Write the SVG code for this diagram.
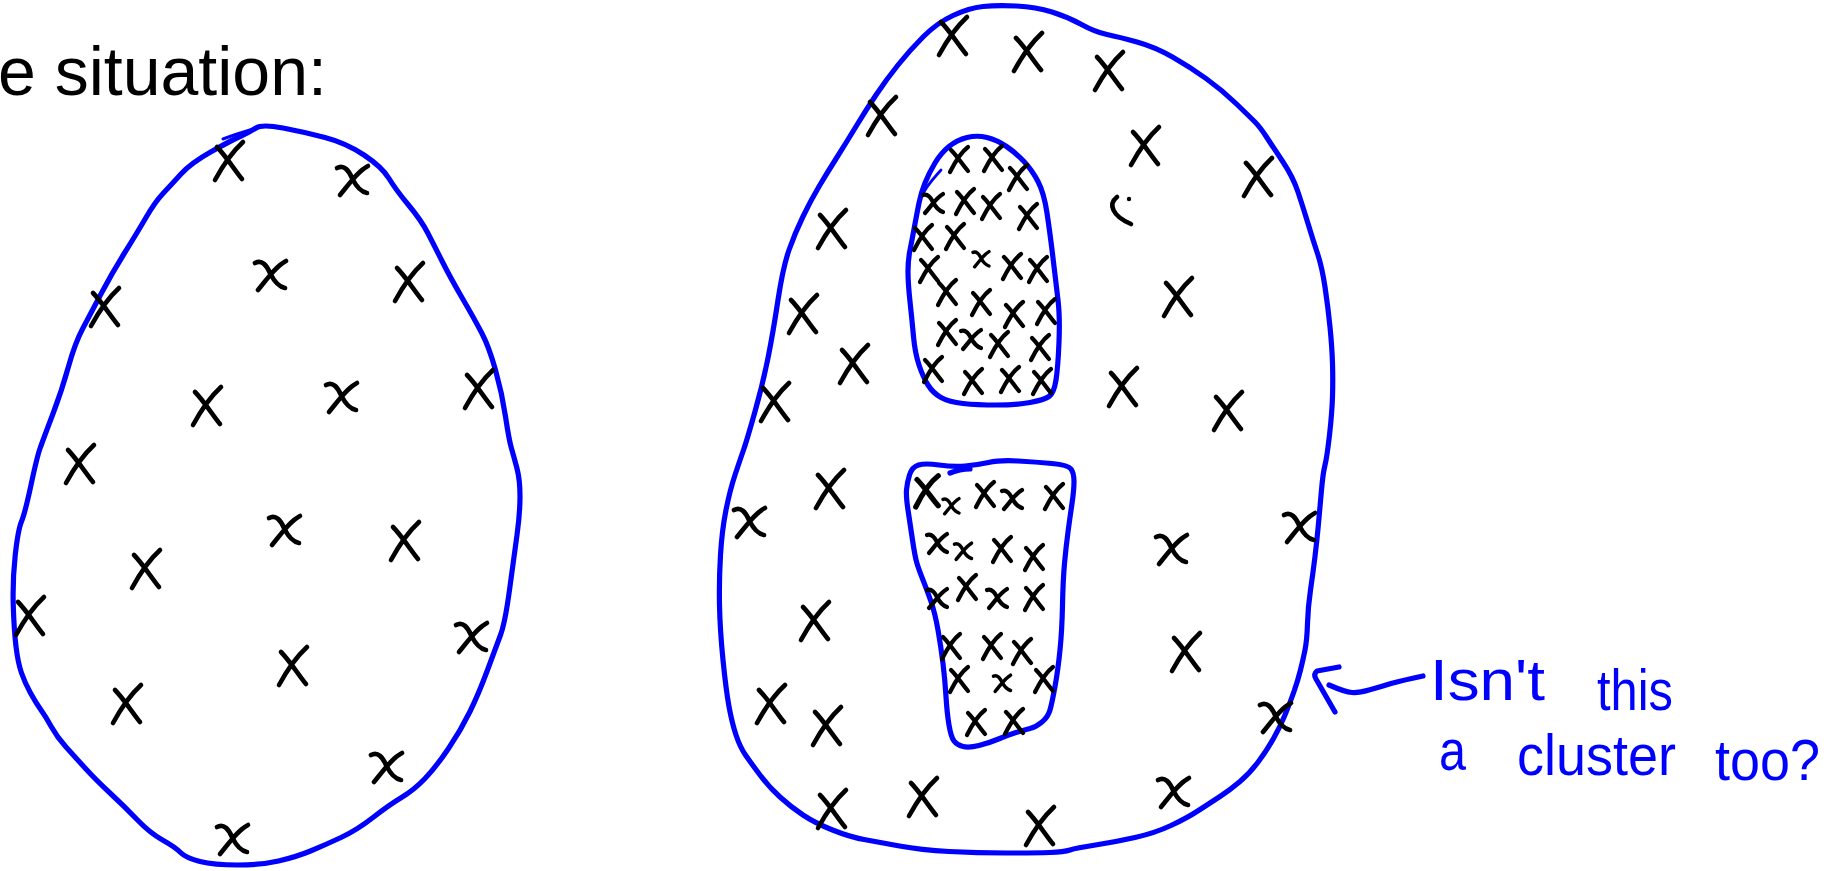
<svg xmlns="http://www.w3.org/2000/svg" xmlns:xlink="http://www.w3.org/1999/xlink" width="1844" height="871" viewBox="0 0 1844 871">
<style>
.outline{fill:none;stroke:#0000ff;stroke-width:5.2;stroke-linejoin:round;stroke-linecap:round}
.mark{fill:none;stroke:#000;stroke-width:4.6;stroke-linecap:round;stroke-linejoin:round}
.marks{fill:none;stroke:#000;stroke-width:4.2;stroke-linecap:round;stroke-linejoin:round}
.hand{font-family:"Liberation Sans",Arial,sans-serif;font-size:58px;fill:#0000ff}
.title{font-family:"Liberation Sans",Arial,sans-serif;font-size:68px;fill:#000}
</style>
<defs>
<path id="xA" class="mark" d="M-14,18 C-8,7 2,-9 14,-20 M-12,-15 C-4,-7 5,7 13,17"/>
<path id="xB" class="mark" d="M-15,-10 C-8,-14 -3,-7 0,0 C4,8 9,14 15,15 M-12,17 C-2,5 6,-7 16,-12"/>
<path id="xs" class="marks" d="M-9,12 C-5,4 1,-7 9,-13 M-8,-10 C-2,-4 3,4 9,11"/>
<path id="xt" class="marks" d="M-10,-7 C-5,-9 -2,-4 0,0 C3,6 7,9 10,10 M-8,11 C-1,3 3,-4 10,-8"/>
</defs>
<rect width="1844" height="871" fill="#fff"/>
<g id="title"><text class="title" x="-2" y="95">e situation:</text></g>

<g id="left-cluster">
<path class="outline" d="M256,128 Q262,124 283,128 Q304,132 325,137.5 Q346,143 364,155 Q382,167 389,178.5 Q396,190 408.5,205 Q421,220 427.5,232.5 Q434,245 442,261 Q450,277 462.5,298.5 Q475,320 482,333.5 Q489,347 495.5,370 Q502,393 505.5,416.5 Q509,440 511.5,448.5 Q514,457 517,468.5 Q520,480 520,496.5 Q520,513 517,535 Q514,557 509.5,590 Q505,623 500.5,635 Q496,647 487.5,670 Q479,693 470,711.5 Q461,730 448.5,748.5 Q436,767 425,778.5 Q414,790 401.5,797.5 Q389,805 373,817.5 Q357,830 341,837.5 Q325,845 310.5,851 Q296,857 278.5,861 Q261,865 237.5,865 Q214,865 200,861.5 Q186,858 180.5,852.5 Q175,847 162.5,840 Q150,833 137.5,820 Q125,807 110.5,793.5 Q96,780 85.5,768.5 Q75,757 66,747 Q57,737 51.5,727 Q46,717 41,710 Q36,703 30.5,693 Q25,683 21.5,673 Q18,663 16,646.5 Q14,630 13.25,605 Q12.5,580 15.25,555 Q18,530 21.5,521.5 Q25,513 31,485 Q37,457 40,448.5 Q43,440 52.5,415 Q62,390 68.5,366.5 Q75,343 83,328 Q91,313 101.5,293 Q112,273 124.5,253 Q137,233 146,217.5 Q155,202 163,193.5 Q171,185 181,174 Q191,163 211.5,151.5 Q232,140 241,136 Q250,132 256,128 Z"/>
<path class="outline" style="stroke-width:3" d="M223,139 Q236,134 250,130"/>
<use href="#xA" x="229" y="162"/>
<use href="#xB" x="352" y="178"/>
<use href="#xB" x="270" y="273"/>
<use href="#xA" x="409" y="283"/>
<use href="#xA" x="105" y="308"/>
<use href="#xA" x="207" y="407"/>
<use href="#xB" x="341" y="395"/>
<use href="#xA" x="479" y="390"/>
<use href="#xA" x="80" y="465"/>
<use href="#xB" x="284" y="528"/>
<use href="#xA" x="405" y="542"/>
<use href="#xA" x="146" y="570"/>
<use href="#xA" x="30" y="617"/>
<use href="#xB" x="471" y="635"/>
<use href="#xA" x="293" y="667"/>
<use href="#xA" x="127" y="705"/>
<use href="#xB" x="386" y="765"/>
<use href="#xB" x="232" y="837"/>
</g>

<g id="right-cluster">
<path class="outline" d="M983,6.5 Q997,5 1016.5,6 Q1036,7 1052,12 Q1068,17 1081.5,24.5 Q1095,32 1107,34.5 Q1119,37 1137,42 Q1155,47 1172.5,57 Q1190,67 1206,78.5 Q1222,90 1236,103.5 Q1250,117 1255,122 Q1260,127 1266.5,137 Q1273,147 1283,162 Q1293,177 1298,192 Q1303,207 1308,223.5 Q1313,240 1317.5,253.5 Q1322,267 1325,287 Q1328,307 1330,327 Q1332,347 1332.5,363.5 Q1333,380 1332.5,396.5 Q1332,413 1329.5,435 Q1327,457 1325,465 Q1323,473 1321.5,490 Q1320,507 1318.5,523.5 Q1317,540 1315,556.5 Q1313,573 1310.5,590 Q1308,607 1307.5,623.5 Q1307,640 1305,650 Q1303,660 1300.5,670 Q1298,680 1294,691.5 Q1290,703 1285,715 Q1280,727 1273.5,738.5 Q1267,750 1258.5,761.5 Q1250,773 1240,781.5 Q1230,790 1220,796.5 Q1210,803 1198.5,810.5 Q1187,818 1171,825.5 Q1155,833 1135,837.5 Q1115,842 1095.5,845 Q1076,848 1070,850 Q1064,852 1050,852.5 Q1036,853 1006.5,853 Q977,853 949,851.5 Q921,850 899.5,846 Q878,842 864,839.5 Q850,837 832.5,830 Q815,823 803,815 Q791,807 780,797 Q769,787 760,775 Q751,763 745.5,755 Q740,747 736,735 Q732,723 729,706.5 Q726,690 723,660 Q720,630 719.5,605 Q719,580 720.5,555 Q722,530 726,510 Q730,490 735,475 Q740,460 743.5,450 Q747,440 755,411.5 Q763,383 768,358 Q773,333 778,300 Q783,267 789,250 Q795,233 803,216.5 Q811,200 819,186.5 Q827,173 836.5,158 Q846,143 856,126.5 Q866,110 876,95 Q886,80 898,65 Q910,50 923.5,36.5 Q937,23 953,15.5 Q969,8 983,6.5 Z"/>
<use href="#xA" x="953" y="37"/>
<use href="#xA" x="1028" y="53"/>
<use href="#xA" x="1109" y="72"/>
<use href="#xA" x="882" y="117"/>
<use href="#xA" x="1145" y="147"/>
<use href="#xA" x="1258" y="178"/>
<path class="mark" d="M1117,197 C1108,204 1112,216 1131,224"/>
<circle cx="1129" cy="199" r="2.2" fill="#000"/>
<use href="#xA" x="832" y="230"/>
<use href="#xA" x="1178" y="298"/>
<use href="#xA" x="803" y="315"/>
<use href="#xA" x="854" y="365"/>
<use href="#xA" x="1123" y="388"/>
<use href="#xA" x="775" y="403"/>
<use href="#xA" x="1228" y="412"/>
<use href="#xB" x="749" y="520"/>
<use href="#xA" x="830" y="490"/>
<use href="#xB" x="1171" y="547"/>
<use href="#xB" x="1299" y="525"/>
<use href="#xA" x="815" y="622"/>
<use href="#xA" x="1186" y="653"/>
<use href="#xA" x="771" y="705"/>
<use href="#xA" x="827" y="727"/>
<use href="#xB" x="1275" y="715"/>
<use href="#xA" x="832" y="810"/>
<use href="#xA" x="923" y="798"/>
<use href="#xA" x="1040" y="827"/>
<use href="#xB" x="1173" y="790"/>
</g>

<g id="inner-top">
<path class="outline" d="M967,137.5 Q977,135 987,137.5 Q997,140 1006.5,146.5 Q1016,153 1024,161.5 Q1032,170 1038,181.5 Q1044,193 1047,213 Q1050,233 1053,258 Q1056,283 1058,300 Q1060,317 1059,342 Q1058,367 1056,380 Q1054,393 1049,396.5 Q1044,400 1030,402.5 Q1016,405 996.5,405 Q977,405 963,403.5 Q949,402 941,397.5 Q933,393 928,385 Q923,377 919,365 Q915,353 913.5,336.5 Q912,320 910,301.5 Q908,283 908,271.5 Q908,260 910,250 Q912,240 914.5,226.5 Q917,213 919,203 Q921,193 925,183 Q929,173 935,163 Q941,153 949,146.5 Q957,140 967,137.5 Z"/>
<path class="outline" style="stroke-width:2.8" d="M941,170 C934,178 926,186 922,196"/>
<use href="#xs" x="959" y="160"/>
<use href="#xs" x="993" y="159"/>
<use href="#xs" x="1018" y="178"/>
<use href="#xt" x="933" y="202"/>
<use href="#xs" x="965" y="202"/>
<use href="#xs" x="991" y="207"/>
<use href="#xs" x="1028" y="217"/>
<use href="#xs" x="923" y="238"/>
<use href="#xs" x="955" y="237"/>
<use href="#xt" transform="translate(981 258) scale(.8)"/>
<use href="#xs" x="1012" y="267"/>
<use href="#xs" x="1038" y="270"/>
<use href="#xs" x="929" y="270"/>
<use href="#xs" x="947" y="293"/>
<use href="#xs" x="981" y="303"/>
<use href="#xs" x="1014" y="315"/>
<use href="#xs" x="1046" y="312"/>
<use href="#xs" x="947" y="333"/>
<use href="#xt" x="971" y="338"/>
<use href="#xs" x="999" y="345"/>
<use href="#xs" x="1040" y="348"/>
<use href="#xs" x="933" y="370"/>
<use href="#xs" x="973" y="382"/>
<use href="#xs" x="1010" y="380"/>
<use href="#xs" x="1042" y="382"/>
</g>

<g id="inner-bottom">
<path class="outline" d="M909.5,475 Q912,467 918.5,465 Q925,463 939,465 Q953,467 965,466 Q977,465 988.5,462.5 Q1000,460 1018,461 Q1036,462 1052,463.5 Q1068,465 1071,469 Q1074,473 1074,481.5 Q1074,490 1072,503.5 Q1070,517 1068,532 Q1066,547 1064.5,563.5 Q1063,580 1062.5,605 Q1062,630 1060,650 Q1058,670 1055,686.5 Q1052,703 1050,710 Q1048,717 1042,722 Q1036,727 1030,728.5 Q1024,730 1016,732.5 Q1008,735 998.5,739 Q989,743 979,745.5 Q969,748 963,746.5 Q957,745 954,741 Q951,737 949,725 Q947,713 946,696.5 Q945,680 943,663.5 Q941,647 938,630 Q935,613 931,601.5 Q927,590 923,580 Q919,570 917,563.5 Q915,557 912.5,540 Q910,523 908,510 Q906,497 906.5,490 Q907,483 909.5,475 Z"/>
<path class="outline" d="M950,473 Q960,469 970,469"/>
<use href="#xs" transform="translate(927 492) scale(1.25)"/>
<use href="#xt" transform="translate(951 505) scale(.8)"/>
<use href="#xs" x="985" y="495"/>
<use href="#xt" x="1012" y="498"/>
<use href="#xs" x="1054" y="497"/>
<use href="#xt" x="937" y="542"/>
<use href="#xt" transform="translate(963 550) scale(.85)"/>
<use href="#xs" x="1002" y="550"/>
<use href="#xs" x="1034" y="558"/>
<use href="#xt" x="937" y="597"/>
<use href="#xs" x="967" y="588"/>
<use href="#xt" x="997" y="597"/>
<use href="#xs" x="1034" y="598"/>
<use href="#xs" x="951" y="647"/>
<use href="#xs" x="992" y="647"/>
<use href="#xs" x="1022" y="652"/>
<use href="#xs" x="959" y="680"/>
<use href="#xt" transform="translate(1002 682) scale(.85)"/>
<use href="#xs" x="1044" y="680"/>
<use href="#xs" x="976" y="723"/>
<use href="#xs" x="1014" y="722"/>
</g>

<g id="connectors">
<path class="outline" d="M1423,676 Q1404,680 1391,683.5 Q1380,687 1369,690 Q1359,693 1352,692.5 Q1345,692 1329,685"/>
<path class="outline" d="M1339,667 L1317,671 Q1313,674 1316,679 L1335,712"/>
</g>

<g id="annotation">
<text class="hand" x="1430" y="700" textLength="115" lengthAdjust="spacingAndGlyphs">Isn't</text>
<text class="hand" x="1597" y="710" textLength="76" lengthAdjust="spacingAndGlyphs">this</text>
<text class="hand" x="1439" y="770" textLength="27" lengthAdjust="spacingAndGlyphs">a</text>
<text class="hand" x="1517" y="775" textLength="159" lengthAdjust="spacingAndGlyphs">cluster</text>
<text class="hand" x="1715" y="780" textLength="105" lengthAdjust="spacingAndGlyphs">too?</text>
</g>
</svg>
